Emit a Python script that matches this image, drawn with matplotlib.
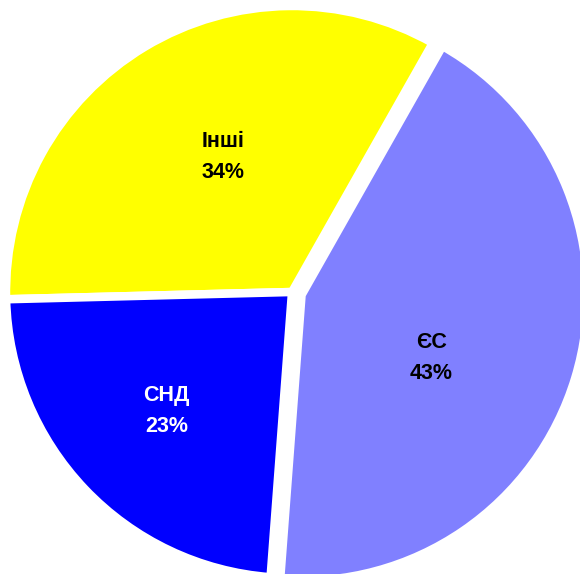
import numpy as np
import matplotlib.pyplot as plt

labels = ['ЄС', 'Інші', 'СНД']
shares = [43.0, 33.6, 23.4]
colors = ['#8080ff', '#ffff00', '#0000ff']
text_colors = ['black', 'black', 'white']

# where each label sits: (fraction of radius, angle shift from mid-angle, deg)
label_place = [(0.505, -9.0), (0.53, -4.0), (0.604, -0.1)]

W, H = 580, 574
fig = plt.figure(figsize=(W / 100, H / 100), dpi=100)
ax = fig.add_axes([0, 0, 1, 1])

cx, cy, R = 292, H - 292, 286

wedges, _ = ax.pie(shares, colors=colors, startangle=-94.3, counterclock=True,
                   radius=R, center=(cx, cy), explode=[10, 0, 0],
                   wedgeprops=dict(edgecolor='white', linewidth=6.1))

for w, name, pct, tc, (fr, da) in zip(wedges, labels, shares, text_colors, label_place):
    wx, wy = w.center
    ang = np.deg2rad((w.theta1 + w.theta2) / 2 + da)
    ax.text(wx + fr * R * np.cos(ang), wy + fr * R * np.sin(ang), '{}\n{:.0f}%'.format(name, pct),
            ha='center', va='center', color=tc, fontsize=15.5, fontweight='bold',
            family=['Liberation Sans', 'DejaVu Sans'], linespacing=1.65)

ax.set_xlim(0, W)
ax.set_ylim(0, H)
ax.axis('off')
fig.savefig('out.png', dpi=100)
